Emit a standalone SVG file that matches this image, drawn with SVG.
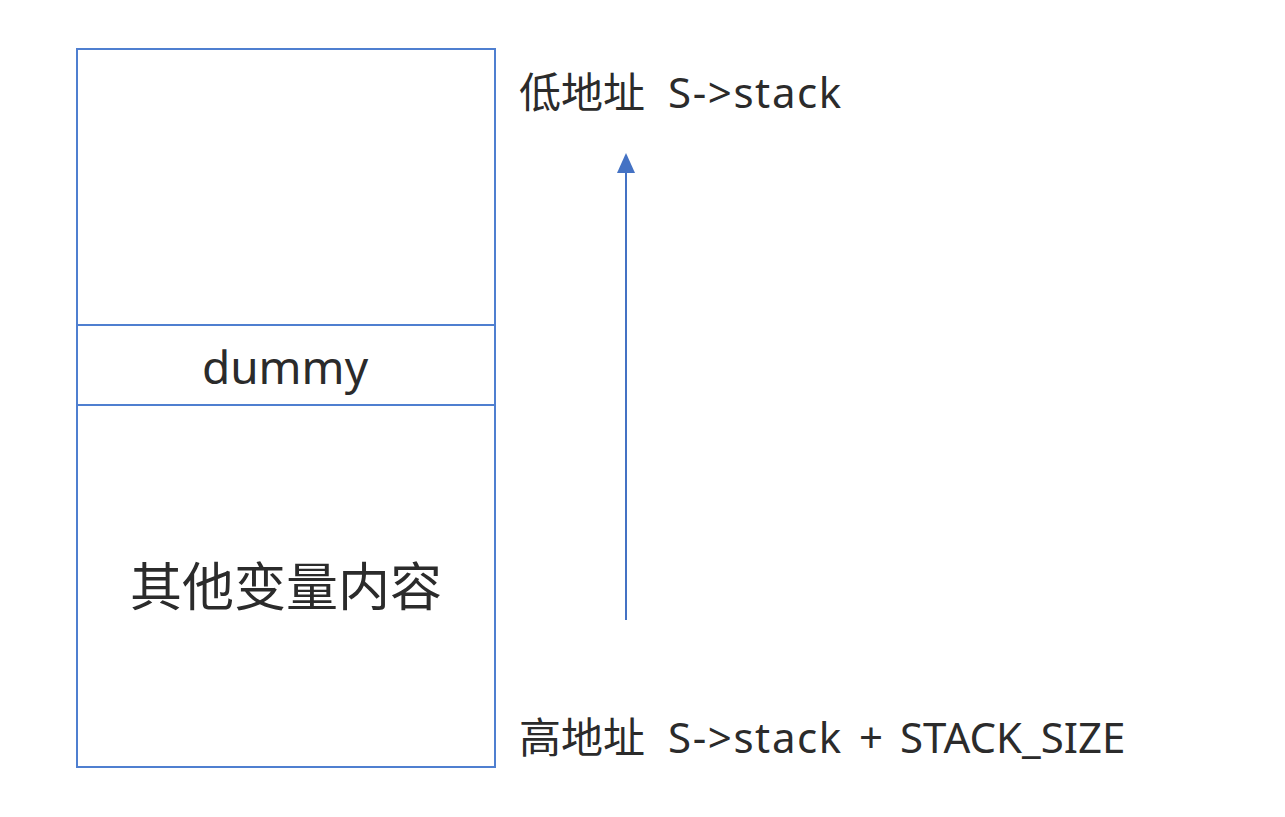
<svg xmlns="http://www.w3.org/2000/svg" width="1285" height="817" viewBox="0 0 1285 817">
<style>
.box{fill:#ffffff;stroke:#4f7fd0;stroke-width:2}
.t{font-family:"Noto Sans","Noto Sans CJK SC",sans-serif;fill:#2b2b2b}
.lat{letter-spacing:1.6px}
.conn{stroke:#4472c4;stroke-width:2;fill:none}
.head{fill:#4472c4}
</style>
<rect width="1285" height="817" fill="#ffffff"/>
<g id="stack-top">
<rect class="box" x="77" y="49" width="418" height="276"/>
</g>
<g id="dummy">
<rect class="box" x="77" y="325" width="418" height="80"/>
<text class="t" x="285" y="384" font-size="46" text-anchor="middle">dummy</text>
</g>
<g id="other-vars">
<rect class="box" x="77" y="405" width="418" height="362"/>
<text class="t" x="286" y="606" font-size="52" text-anchor="middle">其他变量内容</text>
</g>
<g id="low-addr">
<text class="t" x="519" y="108" font-size="42">低地址 <tspan class="lat" x="668">S-&gt;stack</tspan></text>
</g>
<g id="high-addr">
<text class="t" x="519" y="753" font-size="42">高地址 <tspan class="lat" x="668">S-&gt;stack</tspan> <tspan x="859">+</tspan> <tspan x="900">STACK_SIZE</tspan></text>
</g>
<g id="connectors">
<line class="conn" x1="626" y1="620" x2="626" y2="172"/>
<path class="head" d="M626,153 L617,173 L635,173 z"/>
</g>
</svg>
